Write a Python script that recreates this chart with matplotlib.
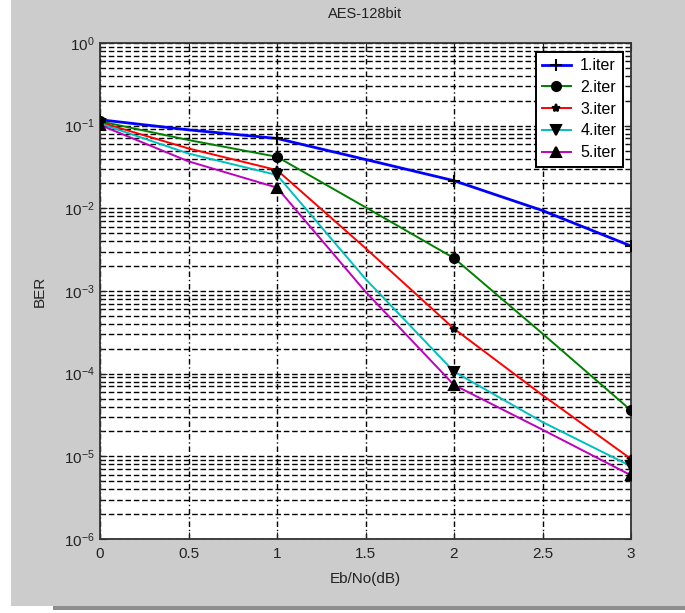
"""
BER vs Eb/No for the AES-128bit iterative decoder, 1..5 iterations (MATLAB-style look).
"""
import numpy as np
import matplotlib
matplotlib.use("Agg")
import matplotlib.pyplot as plt
import matplotlib.ticker as ticker
from matplotlib.patches import Rectangle

plt.rcParams["font.family"] = ["Liberation Sans", "DejaVu Sans"]
plt.rcParams["mathtext.fontset"] = "custom"
plt.rcParams["mathtext.rm"] = "Liberation Sans"

# ── data (markers sit on the integer Eb/No points) ──
ebno = [0, 0.5, 1, 1.5, 2, 2.5, 3]
ber_1 = [0.118, 0.089, 0.070, 0.039, 0.0216, 0.0094, 0.0035]
ber_2 = [0.113, 0.067, 0.042, 0.0103, 0.0025, 3.05e-4, 3.6e-5]
ber_3 = [0.110, 0.053, 0.029, 3.3e-3, 3.5e-4, 5.5e-5, 9.3e-6]
ber_4 = [0.106, 0.046, 0.0253, 1.4e-3, 1.06e-4, 2.6e-5, 7.6e-6]
ber_5 = [0.102, 0.037, 0.0178, 9.8e-4, 7.3e-5, 2.1e-5, 5.9e-6]
labels = ["1.iter", "2.iter", "3.iter", "4.iter", "5.iter"]

series = [ber_1, ber_2, ber_3, ber_4, ber_5]
colors = ["#0000ff", "#008000", "#ff0000", "#00bfbf", "#bf00bf"]
markers = ["+", "o", "*", "v", "^"]
msizes = [9, 6.5, 6, 7.5, 7.5]
lwidths = [2.0, 1.4, 1.4, 1.4, 1.4]

W, H = 685, 613
fig = plt.figure(figsize=(W / 100, H / 100), dpi=100, facecolor="white")

# grey MATLAB figure window + bottom shadow
fig.patches.append(Rectangle((11 / W, 1 - 606 / H), 1 - 11 / W, 606 / H,
                             transform=fig.transFigure, facecolor="#cccccc",
                             edgecolor="none", zorder=-10))
fig.patches.append(Rectangle((53 / W, 1 - 610 / H), 1 - 53 / W, 4 / H,
                             transform=fig.transFigure, facecolor="#8e8e8e",
                             edgecolor="none", zorder=-10))

ax = fig.add_axes([100 / W, 1 - 539 / H, 531 / W, 496 / H])
ax.set_facecolor("white")

for y, c, m, ms, lw, lab in zip(series, colors, markers, msizes, lwidths, labels):
    ax.semilogy(ebno, y, color=c, lw=lw, marker=m, ms=ms, markevery=2,
                mec="black", mfc="black", mew=1.5, label=lab, zorder=3)

ax.set_xlim(0, 3)
ax.set_ylim(1e-6, 1)
ax.xaxis.set_major_locator(ticker.MultipleLocator(0.5))
ax.xaxis.set_major_formatter(ticker.FuncFormatter(lambda v, p: f"{v:g}"))
ax.yaxis.set_major_locator(ticker.LogLocator(base=10, numticks=10))
ax.yaxis.set_minor_locator(ticker.LogLocator(base=10, subs=np.arange(2, 10), numticks=20))
ax.yaxis.set_minor_formatter(ticker.NullFormatter())

ax.grid(True, which="major", axis="x", color="black", lw=1.0, ls=(0, (4, 2, 1, 2)))
ax.grid(True, which="both", axis="y", color="black", lw=1.0, ls=(0, (4, 2)))
ax.set_axisbelow(True)

ax.tick_params(which="both", direction="in", top=True, right=True,
               labelsize=11, colors="#222222")
ax.tick_params(axis="x", pad=6)
ax.tick_params(axis="y", pad=4)
ax.tick_params(which="major", length=5, width=0.8)
ax.tick_params(which="minor", length=3, width=0.6)
for sp in ax.spines.values():
    sp.set_color("#333333")
    sp.set_linewidth(1.3)

ax.set_title("AES-128bit", fontsize=10.5, pad=18, color="#222222")
ax.set_xlabel("Eb/No(dB)", fontsize=11, color="#222222", labelpad=8)
ax.set_ylabel("BER", fontsize=11, color="#222222", labelpad=12)

leg = ax.legend(loc="upper right", bbox_to_anchor=(0.984, 0.982), borderaxespad=0,
                fancybox=False, edgecolor="black", framealpha=1, fontsize=11.5,
                handlelength=1.8, labelspacing=0.42, borderpad=0.4, handletextpad=0.6)
leg.get_frame().set_linewidth(1.4)

fig.savefig("out.png", dpi=100, facecolor=fig.get_facecolor())
